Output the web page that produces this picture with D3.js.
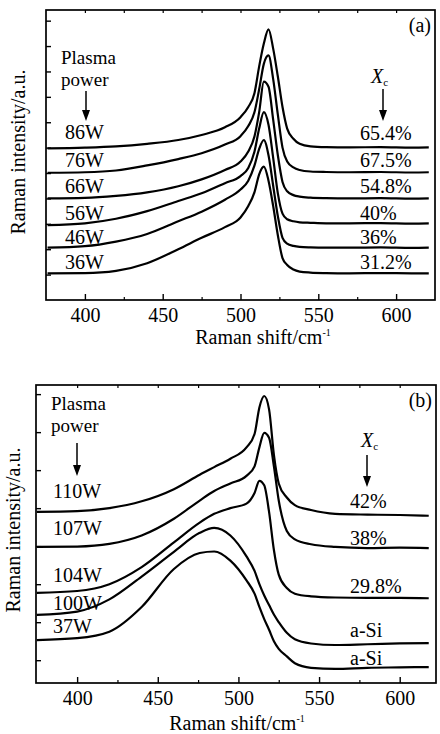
<!DOCTYPE html>
<html><head><meta charset="utf-8">
<script src="https://cdn.jsdelivr.net/npm/d3@7"></script>
<style>
html,body{margin:0;padding:0;background:#fff;}
svg text{font-family:"Liberation Serif","Times New Roman","DejaVu Serif",serif;fill:#000;}
</style></head>
<body>
<svg id="chart" width="440" height="734"></svg>
<script>
// ---------- Panel (a) data ----------
const shiftA = [376, 400, 420, 440, 460, 475, 490, 500, 505, 509, 512, 515, 518, 521, 524, 527, 530, 534, 538, 545, 555, 570, 590, 610, 621];
const powersA = ["86W", "76W", "66W", "56W", "46W", "36W"];
const xcA = ["65.4%", "67.5%", "54.8%", "40%", "36%", "31.2%"];
const a86 = [5.97, 6.0, 6.05, 6.15, 6.3, 6.5, 6.8, 7.2, 7.6, 8.15, 9.2, 10.1, 10.66, 9.9, 8.8, 7.6, 6.75, 6.35, 6.15, 6.05, 6.02, 6.01, 6.02, 6.0, 6.01];
const a76 = [5.01, 5.03, 5.1, 5.3, 5.55, 5.78, 6.12, 6.45, 6.85, 7.4, 8.3, 9.3, 9.63, 8.7, 7.3, 6.0, 5.45, 5.22, 5.12, 5.06, 5.04, 5.03, 5.04, 5.02, 5.03];
const a66 = [4.0, 4.02, 4.1, 4.24, 4.48, 4.75, 5.12, 5.45, 5.85, 6.45, 7.4, 8.6, 8.4, 7.1, 5.7, 4.65, 4.28, 4.13, 4.07, 4.03, 4.01, 4.0, 4.01, 3.99, 4.0];
const a56 = [2.95, 3.02, 3.2, 3.5, 3.9, 4.2, 4.6, 4.88, 5.2, 5.85, 6.75, 7.4, 6.9, 5.6, 4.2, 3.4, 3.18, 3.1, 3.06, 3.04, 3.02, 3.02, 3.03, 3.01, 3.02];
const a46 = [2.06, 2.12, 2.3, 2.6, 3.1, 3.48, 3.95, 4.35, 4.7, 5.3, 5.95, 6.3, 5.7, 4.5, 3.3, 2.45, 2.22, 2.13, 2.09, 2.07, 2.06, 2.06, 2.07, 2.05, 2.06];
const a36 = [1.05, 1.06, 1.15, 1.45, 2.0, 2.45, 2.87, 3.25, 3.7, 4.25, 4.95, 5.25, 4.7, 3.7, 2.55, 1.65, 1.38, 1.2, 1.12, 1.08, 1.06, 1.05, 1.06, 1.05, 1.05];

// ---------- Panel (b) data ----------
const shiftB = [375, 400, 420, 440, 460, 476, 485, 495, 505, 510, 513, 516, 519, 522, 525, 530, 535, 545, 560, 580, 600, 618];
const powersB = ["110W", "107W", "104W", "100W", "37W"];
const xcB = ["42%", "38%", "29.8%", "a-Si", "a-Si"];
const b110 = [3.90, 3.92, 4.0, 4.18, 4.5, 4.88, 5.08, 5.3, 5.6, 5.95, 6.65, 6.95, 6.6, 5.4, 4.65, 4.28, 4.08, 3.95, 3.85, 3.83, 3.82, 3.80];
const b107 = [2.98, 2.99, 3.06, 3.28, 3.72, 4.2, 4.45, 4.65, 4.85, 5.1, 5.6, 5.98, 5.85, 5.1, 4.2, 3.4, 3.18, 3.05, 2.98, 2.95, 2.96, 2.95];
const b104 = [1.77, 1.82, 2.0, 2.45, 3.1, 3.62, 3.85, 4.0, 4.12, 4.4, 4.72, 4.6, 3.9, 2.9, 2.25, 1.9, 1.75, 1.68, 1.65, 1.64, 1.64, 1.63];
const b100 = [1.19, 1.28, 1.6, 2.2, 2.85, 3.35, 3.48, 3.28, 2.73, 2.35, 2.0, 1.7, 1.45, 1.2, 1.0, 0.72, 0.55, 0.44, 0.40, 0.42, 0.44, 0.45];
const b37 = [0.53, 0.58, 0.75, 1.4, 2.4, 2.82, 2.86, 2.62, 2.1, 1.75, 1.4, 1.08, 0.8, 0.5, 0.3, 0.1, -0.08, -0.2, -0.23, -0.2, -0.19, -0.18];

const xTickValues = [400, 450, 500, 550, 600];
const xMinorValues = [425, 475, 525, 575];

const svg = d3.select("#chart");
const FS = 20;
const FF = "Liberation Serif, Times New Roman, DejaVu Serif, serif";

function txt(g, x, y, s, size) {
  return g.append("text").attr("x", x).attr("y", y).attr("font-size", size || FS)
    .attr("font-family", FF).text(s);
}

function drawPanel(cfg) {
  const g = svg.append("g");
  const x = d3.scaleLinear().domain(cfg.xDomain).range([cfg.left, cfg.right]);
  const y = d3.scaleLinear().domain(cfg.yDomain).range([cfg.bottom, cfg.top]);

  // frame
  g.append("rect").attr("x", cfg.left).attr("y", cfg.top)
    .attr("width", cfg.right - cfg.left).attr("height", cfg.bottom - cfg.top)
    .attr("fill", "none").attr("stroke", "#000").attr("stroke-width", 1.7);

  // bottom axis (inward ticks)
  const xAxis = d3.axisBottom(x).tickValues(xTickValues).tickSize(-6).tickPadding(8).tickFormat(d3.format("d"));
  const ax = g.append("g").attr("transform", `translate(0,${cfg.bottom})`).call(xAxis);
  ax.select(".domain").remove();
  ax.selectAll("line").attr("stroke", "#000").attr("stroke-width", 1.4);
  ax.selectAll("text").attr("font-size", FS).attr("font-family", FF).attr("fill", "#000");
  const axm = g.append("g").attr("transform", `translate(0,${cfg.bottom})`)
    .call(d3.axisBottom(x).tickValues(xMinorValues).tickSize(-3).tickFormat(""));
  axm.select(".domain").remove();
  axm.selectAll("line").attr("stroke", "#000").attr("stroke-width", 1.2);
  // top ticks
  const at = g.append("g").attr("transform", `translate(0,${cfg.top})`)
    .call(d3.axisTop(x).tickValues(xTickValues.concat(xMinorValues)).tickSize(-3).tickFormat(""));
  at.select(".domain").remove();
  at.selectAll("line").attr("stroke", "#000").attr("stroke-width", 1.2);

  // left axis ticks (inward)
  const ay = g.append("g").attr("transform", `translate(${cfg.left},0)`)
    .call(d3.axisLeft(y).tickValues(cfg.yTicks).tickSize(-5).tickFormat(""));
  ay.select(".domain").remove();
  ay.selectAll("line").attr("stroke", "#000").attr("stroke-width", 1.4);

  // curves
  const line = d3.line().x(d => x(d[0])).y(d => y(d[1])).curve(d3.curveMonotoneX);
  cfg.series.forEach(s => {
    g.append("path").datum(cfg.xs.map((v, i) => [v, s[i]]))
      .attr("d", line).attr("fill", "none").attr("stroke", "#000")
      .attr("stroke-width", 2.2).attr("stroke-linejoin", "round");
  });

  // labels
  cfg.powers.forEach((p, i) => txt(g, cfg.powerX, cfg.powerY[i], p));
  cfg.xc.forEach((p, i) => txt(g, cfg.xcX, cfg.xcY[i], p));

  // headers
  txt(g, cfg.left + 15, cfg.plasmaY, "Plasma", 19);
  txt(g, cfg.left + 15, cfg.plasmaY + 22, "power", 19);
  const xcT = txt(g, cfg.xcHeadX, cfg.xcHeadY, "");
  xcT.append("tspan").attr("font-style", "italic").text("X");
  xcT.append("tspan").attr("font-size", 11).attr("dy", 3).text("c");
  txt(g, cfg.right - 4, cfg.top + 22, cfg.tag).attr("text-anchor", "end");

  // arrows
  cfg.arrows.forEach(a => {
    g.append("line").attr("x1", a[0]).attr("x2", a[0]).attr("y1", a[1]).attr("y2", a[2] - 8)
      .attr("stroke", "#000").attr("stroke-width", 1.5);
    g.append("path").attr("d", `M${a[0] - 4},${a[2] - 11} L${a[0] + 4},${a[2] - 11} L${a[0]},${a[2]} Z`).attr("fill", "#000");
  });

  // axis titles
  const xt = txt(g, cfg.xTitleX, cfg.xTitleY, "").attr("text-anchor", "middle");
  xt.append("tspan").text("Raman shift/cm");
  xt.append("tspan").attr("font-size", 10).attr("dy", -8).text("-1");
  g.append("text").attr("transform", `translate(${cfg.yTitleX},${cfg.yTitleY}) rotate(-90)`)
    .attr("text-anchor", "middle").attr("font-size", FS).attr("font-family", FF).text("Raman intensity/a.u.");
}

drawPanel({
  left: 46, right: 435, top: 10, bottom: 300,
  xDomain: [375, 625], yDomain: [0, 11.42], yTicks: d3.range(1, 12),
  xs: shiftA, series: [a86, a76, a66, a56, a46, a36],
  powers: powersA, powerX: 65, powerY: [139, 167, 193, 220, 244, 269],
  xc: xcA, xcX: 360, xcY: [140, 167, 193, 220, 244, 269],
  plasmaY: 64, xcHeadX: 371, xcHeadY: 83, tag: "(a)",
  arrows: [[86, 91, 121], [383, 89, 121]],
  xTitleX: 263, xTitleY: 344, yTitleX: 25, yTitleY: 152
});

drawPanel({
  left: 36, right: 436, top: 385, bottom: 683,
  xDomain: [374.5, 622.5], yDomain: [-0.6, 7.24], yTicks: d3.range(0, 8),
  xs: shiftB, series: [b110, b107, b104, b100, b37],
  powers: powersB, powerX: 53, powerY: [498, 535, 582, 610, 633],
  xc: xcB, xcX: 350, xcY: [508, 545, 593, 637, 665],
  plasmaY: 410, xcHeadX: 361, xcHeadY: 447, tag: "(b)",
  arrows: [[77, 443, 476], [367, 455, 487]],
  xTitleX: 237, xTitleY: 730, yTitleX: 20, yTitleY: 530
});
</script>
</body></html>
